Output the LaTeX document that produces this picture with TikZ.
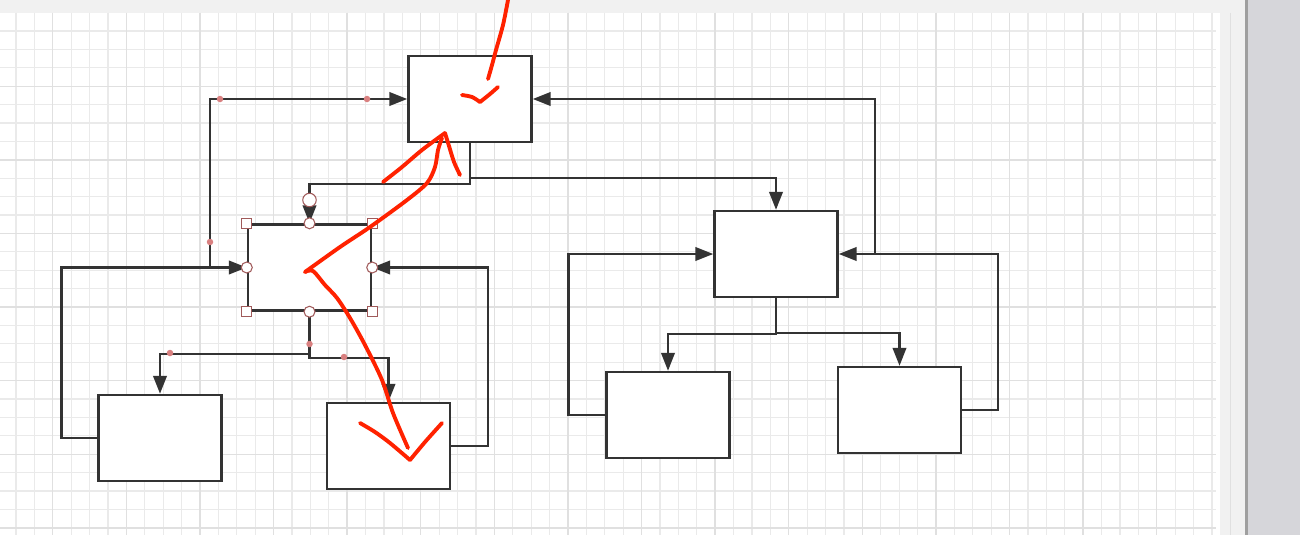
\documentclass[tikz,border=0pt]{standalone}
\usetikzlibrary{arrows.meta}
\definecolor{edge}{HTML}{333333}
\definecolor{minorgrid}{HTML}{EAEAEA}
\definecolor{majorgrid}{HTML}{E0E0E0}
\definecolor{pagegray}{HTML}{F1F1F1}
\definecolor{barshade}{HTML}{D6D6DA}
\definecolor{handlered}{HTML}{A05A5A}
\definecolor{dotred}{HTML}{D98080}
\definecolor{inkred}{HTML}{FF2200}
\tikzset{
  box/.style={draw=edge, fill=white, line width=1.4pt, minimum width=2.46cm, minimum height=1.72cm, inner sep=0pt},
  link/.style={draw=edge, line width=1.4pt, -{Triangle[length=0.36cm, width=0.27cm]}},
  knob/.style={draw=handlered, fill=white, line width=0.6pt, circle, inner sep=0pt, minimum size=0.22cm},
  corner/.style={draw=handlered, fill=white, line width=0.6pt, rectangle, inner sep=0pt, minimum size=0.2cm},
  dot/.style={fill=dotred, circle, inner sep=0pt, minimum size=0.13cm},
  ink/.style={draw=inkred, line width=2.2pt, line cap=round, line join=round}
}
\begin{document}
\begin{tikzpicture}[x=0.02cm, y=-0.02cm]
  \useasboundingbox (0,0) rectangle (1300,535);
  % page and grid
  \fill[pagegray] (0,0) rectangle (1245,535);
  \fill[white] (0,12.6) rectangle (1220,535);
  \foreach \k in {0,...,66} {
    \draw[minorgrid, line width=0.7pt] ({-2.4+18.4*\k},12.6) -- ({-2.4+18.4*\k},535);
  }
  \foreach \k in {1,...,28} {
    \draw[minorgrid, line width=0.7pt] (0,{12.6+18.4*\k}) -- (1220,{12.6+18.4*\k});
  }
  \foreach \k in {0,...,16} {
    \draw[majorgrid, line width=0.8pt] ({52.7+73.6*\k},12.6) -- ({52.7+73.6*\k},535);
  }
  \foreach \k in {1,...,7} {
    \draw[majorgrid, line width=0.8pt] (0,{12.6+73.6*\k}) -- (1220,{12.6+73.6*\k});
  }
  \fill[white] (1216,12.6) rectangle (1220,535);
  \fill[barshade] (1245,0) rectangle (1300,535);
  \fill[gray!75] (1245,0) rectangle (1248,535);

  % boxes
  \node[box] (top) at (470,99) {};
  \node[box] (mid) at (309.5,267.5) {};
  \node[box] (lowleft) at (160,438) {};
  \node[box] (lowmid) at (388.5,446) {};
  \node[box] (right) at (776,254) {};
  \node[box] (rightleft) at (668,415) {};
  \node[box] (rightright) at (899.5,410) {};

  % connectors
  \coordinate (midup) at (210,267.5);
  \coordinate (rightup) at (875,254);
  \draw[link] (lowleft.west) -- ++(-36,0) |- (mid.west);
  \draw[link] (midup) |- (top.west);
  \draw[link] (top.south) -- ++(0,41) -| (mid.north);
  \draw[link] (top.south) -- ++(0,35) -| (right.north);
  \draw[link] (rightup) |- (top.east);
  \draw[link] (right.south) -- ++(0,36) -| (rightleft.north);
  \draw[link] (right.south) -- ++(0,35) -| (rightright.north);
  \draw[link] (rightleft.west) -- ++(-37,0) |- (right.west);
  \draw[link] (rightright.east) -- ++(36,0) |- (right.east);
  \draw[link] (mid.south) -- ++(0,42) -| (lowleft.north);
  \draw[link] (mid.south) -- ++(0,46) -| (lowmid.north);
  \draw[link] (lowmid.east) -- ++(37,0) |- (mid.east);

  % selection handles
  \foreach \c in {north west, north east, south west, south east} {
    \node[corner] at (mid.\c) {};
  }
  \foreach \c in {north, south, east, west} {
    \node[knob] at (mid.\c) {};
  }
  \node[knob, minimum size=0.27cm] (grip) at (309.5,200) {};
  \foreach \p in {(220,99), (367,99), (210,242), (309.5,344), (170,353), (344,357)} {
    \node[dot] at \p {};
  }

  % red marks
  \draw[ink] plot[smooth] coordinates {(508,0) (503,25) (496,50) (492,65) (488,79)};
  \draw[ink] plot[smooth] coordinates {(462,95) (472,97) (480,102)};
  \draw[ink] plot[smooth] coordinates {(480,102) (490,94) (498,87)};
  \draw[ink] plot[smooth] coordinates {(383,182) (402,167) (422,150) (445,133)};
  \draw[ink] plot[smooth] coordinates {(445,133) (449,146) (454,162) (460,175)};
  \draw[ink] plot[smooth] coordinates {(442,138) (438,150) (435,167) (427,183) (407,200) (370,227) (340,247) (305,272)};
  \draw[ink] plot[smooth] coordinates {(305,272) (313,271) (325,285) (337,298) (350,318) (365,345) (382,380) (393,413) (408,448)};
  \draw[ink] plot[smooth] coordinates {(360,423) (375,432) (390,443) (410,460)};
  \draw[ink] plot[smooth] coordinates {(410,460) (425,442) (442,423)};
\end{tikzpicture}
\end{document}
